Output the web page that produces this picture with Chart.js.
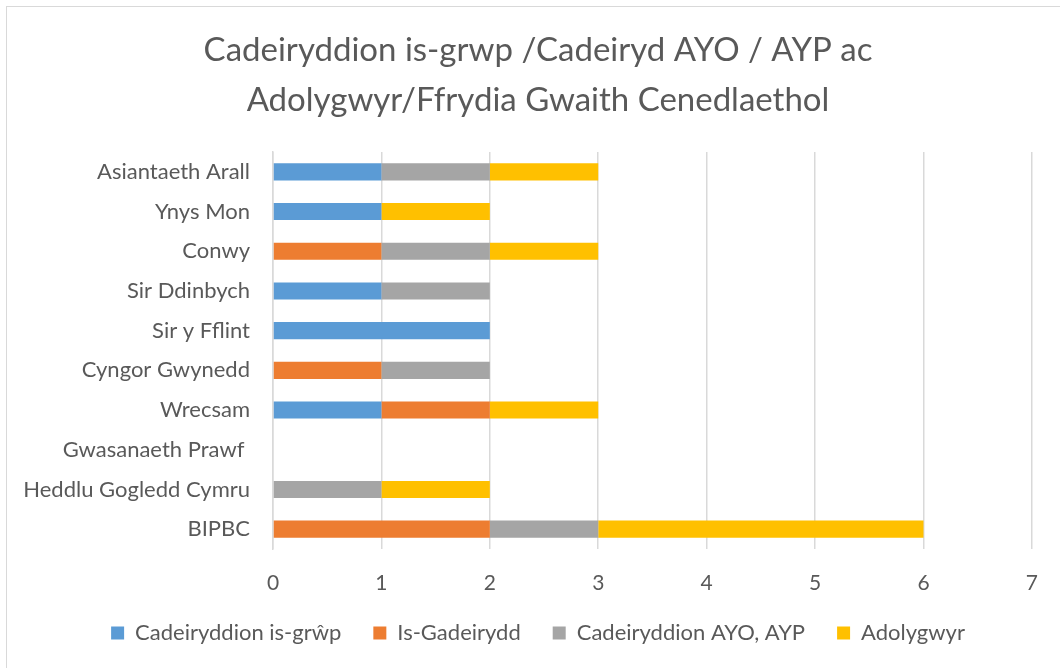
<!DOCTYPE html>
<html>
<head>
<meta charset="utf-8">
<script src="https://cdn.jsdelivr.net/npm/chart.js@4"></script>
<style>
  html, body { margin: 0; padding: 0; background: #fff; overflow: hidden; }
  #wrap { position: relative; width: 1060px; height: 668px; }
  #frame { position: absolute; left: 6px; top: 6px; width: 1100px; height: 700px;
           border: 1px solid #d9d9d9; box-sizing: border-box; pointer-events: none; }
  canvas { position: absolute; left: 0; top: 0; }
</style>
</head>
<body>
<div id="wrap">
  <canvas id="chart" width="1060" height="668"></canvas>
  <div id="frame"></div>
</div>
<script>
const categories = [
  "Asiantaeth Arall", "Ynys Mon", "Conwy", "Sir Ddinbych", "Sir y Fflint",
  "Cyngor Gwynedd", "Wrecsam", "Gwasanaeth Prawf ", "Heddlu Gogledd Cymru", "BIPBC"
];
const cadeiryddion = [1, 1, 0, 1, 2, 0, 1, 0, 0, 0];
const isGadeirydd  = [0, 0, 1, 0, 0, 1, 1, 0, 0, 2];
const ayoAyp       = [1, 0, 1, 1, 0, 1, 0, 0, 1, 1];
const adolygwyr    = [1, 1, 1, 0, 0, 0, 1, 0, 1, 3];
const xTicks = [0, 1, 2, 3, 4, 5, 6, 7];

const FONT = "Lato";
const TXT = "#595959";

// long category names run past the padded left edge, so don't clip them there
const unclipLabels = {
  id: "unclipLabels",
  afterLayout: (chart) => { chart.scales.y.left = 0; }
};

new Chart(document.getElementById("chart"), {
  type: "bar",
  data: {
    labels: categories,
    datasets: [
      { label: "Cadeiryddion is-grŵp", data: cadeiryddion, backgroundColor: "#5B9BD5" },
      { label: "Is-Gadeirydd", data: isGadeirydd, backgroundColor: "#ED7D31" },
      { label: "Cadeiryddion AYO, AYP", data: ayoAyp, backgroundColor: "#A5A5A5" },
      { label: "Adolygwyr", data: adolygwyr, backgroundColor: "#FFC000" }
    ]
  },
  plugins: [unclipLabels],
  options: {
    indexAxis: "y",
    responsive: false,
    animation: false,
    barPercentage: 0.86,
    categoryPercentage: 0.5,
    layout: { padding: { left: 43, right: 27, top: 0, bottom: 14 } },
    scales: {
      x: {
        stacked: true,
        min: 0, max: 7,
        afterBuildTicks: (s) => { s.ticks = xTicks.map(v => ({ value: v })); },
        afterFit: (s) => { s.height = 41; },
        grid: { color: "#d9d9d9", lineWidth: 1.5, drawTicks: false },
        border: { display: false },
        ticks: { color: TXT, font: { family: FONT, size: 21 }, padding: 22 }
      },
      y: {
        stacked: true,
        afterFit: (s) => { s.width = 230; },
        grid: { display: false, drawTicks: false },
        border: { color: "#d9d9d9", width: 1.5 },
        ticks: { color: TXT, font: { family: FONT, size: 22 }, padding: 23, autoSkip: false }
      }
    },
    plugins: {
      title: {
        display: true,
        text: ["Cadeiryddion is-grwp /Cadeiryd AYO / AYP ac", "Adolygwyr/Ffrydia Gwaith Cenedlaethol"],
        color: TXT,
        font: { family: FONT, size: 33, weight: "normal", lineHeight: 1.5 },
        padding: { top: 26, bottom: 27 }
      },
      legend: {
        position: "bottom",
        maxHeight: 68,
        labels: {
          color: TXT,
          font: { family: FONT, size: 22 },
          boxWidth: 13, boxHeight: 13,
          padding: 32
        }
      },
      tooltip: { enabled: false }
    }
  }
});
</script>
</body>
</html>
